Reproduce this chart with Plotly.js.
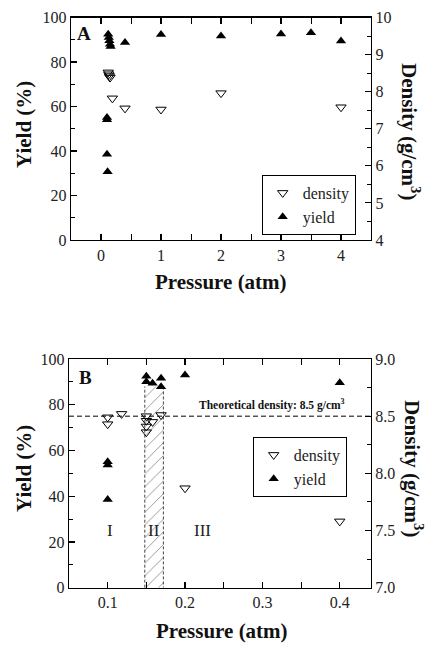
<!DOCTYPE html>
<html>
<head>
<meta charset="utf-8">
<script src="https://cdn.plot.ly/plotly-3.0.1.min.js"></script>
<style>html,body{margin:0;padding:0;background:#fff;}#chart{width:435px;height:645px;}</style>
</head>
<body>
<div id="chart"></div>
<script>
// ---------- Panel A data ----------
const pressureA_yield = [0.12, 0.13, 0.14, 0.15, 0.16, 0.4, 1, 2, 3, 3.5, 4, 0.1, 0.1, 0.1, 0.11];
const yieldA          = [92.5, 91, 89.5, 88, 87, 88.8, 92.4, 91.7, 92.6, 93.2, 89.4, 55, 54, 38.5, 30.7];
const pressureA_dens  = [0.12, 0.13, 0.14, 0.15, 0.19, 0.4, 1, 2, 4];
const densityA        = [8.52, 8.47, 8.42, 8.38, 7.82, 7.55, 7.52, 7.96, 7.58];

// ---------- Panel B data ----------
const pressureB_yield = [0.1, 0.1, 0.1, 0.15, 0.15, 0.158, 0.169, 0.169, 0.2, 0.4];
const yieldB          = [55.1, 53.6, 38.6, 92.5, 90, 89.4, 91.6, 87.9, 93, 89.6];
const pressureB_dens  = [0.1, 0.1, 0.118, 0.15, 0.15, 0.15, 0.15, 0.158, 0.169, 0.2, 0.4];
const densityB        = [8.49, 8.43, 8.52, 8.50, 8.46, 8.41, 8.36, 8.45, 8.51, 7.87, 7.58];

const theoreticalDensity = 8.5;
const bandX = [0.148, 0.172];   // region II bounds (pressure)
const bandTop = 88;             // yield level of the hatched band top
const regionLabels = ['I', 'II', 'III'];
const regionX = [0.103, 0.16, 0.223];
const regionY = 25;

const serif = 'Liberation Serif';
const tickFont = {family: serif, size: 16, color: '#222'};

const traces = [
  {x: [bandX[0], bandX[0], bandX[1], bandX[1], bandX[0]], y: [0, bandTop, bandTop, 0, 0],
   xaxis: 'x2', yaxis: 'y3', type: 'scatter', mode: 'lines', fill: 'toself',
   fillcolor: 'rgba(0,0,0,0)', line: {width: 0},
   fillpattern: {shape: '/', fgcolor: '#777', bgcolor: 'rgba(0,0,0,0)', size: 9, solidity: 0.08},
   showlegend: false, hoverinfo: 'skip'},
  {x: [bandX[0], bandX[0], null, bandX[1], bandX[1]], y: [0, bandTop, null, bandTop, 0],
   xaxis: 'x2', yaxis: 'y3', type: 'scatter', mode: 'lines',
   line: {color: '#444', width: 1, dash: '3px,2px'}, showlegend: false, hoverinfo: 'skip'},
  {x: pressureA_dens, y: densityA, xaxis: 'x', yaxis: 'y2', type: 'scatter', mode: 'markers', name: 'density',
   legend: 'legend',
   marker: {symbol: 'triangle-down-open', size: 9, color: '#000', line: {width: 1, color: '#000'}}},
  {x: pressureA_yield, y: yieldA, xaxis: 'x', yaxis: 'y', type: 'scatter', mode: 'markers', name: 'yield',
   legend: 'legend',
   marker: {symbol: 'triangle-up', size: 9, color: '#000', line: {width: 0}}},
  {x: pressureB_dens, y: densityB, xaxis: 'x2', yaxis: 'y4', type: 'scatter', mode: 'markers', name: 'density',
   legend: 'legend2',
   marker: {symbol: 'triangle-down-open', size: 9, color: '#000', line: {width: 1, color: '#000'}}},
  {x: pressureB_yield, y: yieldB, xaxis: 'x2', yaxis: 'y3', type: 'scatter', mode: 'markers', name: 'yield',
   legend: 'legend2',
   marker: {symbol: 'triangle-up', size: 9, color: '#000', line: {width: 0}}}
];

const axCommon = {
  showline: true, linecolor: '#000', linewidth: 1.3, showgrid: false, zeroline: false,
  ticks: 'inside', ticklen: 6, tickwidth: 1.1, tickcolor: '#000', tickfont: tickFont,
  automargin: false, fixedrange: true
};
const minorTicks = (d) => ({dtick: d, ticklen: 4, ticks: 'inside', tickcolor: '#000', tickwidth: 1});

const yA = [1 - 240 / 645, 1 - 17.5 / 645];
const yB = [1 - 587.7 / 645, 1 - 359 / 645];

const legendStyle = {
  xanchor: 'left', yanchor: 'top', bordercolor: '#000', borderwidth: 1, bgcolor: '#fff',
  font: {family: serif, size: 16, color: '#222'}, traceorder: 'normal', itemwidth: 30, tracegroupgap: 0
};

const ann = (text, x, y, size, extra) => Object.assign({
  text: text, xref: 'paper', yref: 'paper', x: x / 435, y: 1 - y / 645,
  xanchor: 'center', yanchor: 'middle', showarrow: false,
  font: {family: serif, size: size, color: '#111'}
}, extra || {});

const layout = {
  width: 435, height: 645,
  margin: {l: 0, r: 0, t: 0, b: 0},
  paper_bgcolor: '#fff', plot_bgcolor: '#fff',
  font: {family: serif, color: '#000'},
  xaxis: Object.assign({}, axCommon, {
    domain: [71 / 435, 371 / 435], anchor: 'y', range: [-0.5, 4.5], tick0: 0, dtick: 1,
    mirror: 'allticks', minor: minorTicks(0.5)
  }),
  yaxis: Object.assign({}, axCommon, {
    domain: yA, anchor: 'x', range: [0, 100], dtick: 20, minor: minorTicks(10)
  }),
  yaxis2: Object.assign({}, axCommon, {
    domain: yA, anchor: 'x', overlaying: 'y', side: 'right', range: [4, 10], dtick: 1, minor: minorTicks(0.5)
  }),
  xaxis2: Object.assign({}, axCommon, {
    domain: [69 / 435, 370.7 / 435], anchor: 'y3', range: [0.05, 0.44], tick0: 0, dtick: 0.1,
    mirror: 'allticks', tickformat: '.1f', minor: minorTicks(0.05)
  }),
  yaxis3: Object.assign({}, axCommon, {
    domain: yB, anchor: 'x2', range: [0, 100], dtick: 20, minor: minorTicks(10)
  }),
  yaxis4: Object.assign({}, axCommon, {
    domain: yB, anchor: 'x2', overlaying: 'y3', side: 'right', range: [7, 9], dtick: 0.5, tickformat: '.1f',
    minor: minorTicks(0.25)
  }),
  legend: Object.assign({}, legendStyle, {x: 261.7 / 435, y: 1 - 175 / 645}),
  legend2: Object.assign({}, legendStyle, {x: 252.7 / 435, y: 1 - 437 / 645}),
  shapes: [
    {type: 'line', xref: 'x2 domain', x0: 0, x1: 1, yref: 'y4', y0: theoreticalDensity, y1: theoreticalDensity,
     line: {color: '#000', width: 1, dash: '5px,3px'}}
  ],
  annotations: [
    ann('<b>A</b>', 84, 33.5, 19),
    ann('<b>B</b>', 85.5, 377.5, 19),
    ann('<b>Yield (%)</b>', 24, 125, 21, {textangle: -90}),
    ann('<b>Yield (%)</b>', 24, 469, 21, {textangle: -90}),
    ann('<b>Density (g/cm<sup>3</sup>)</b>', 411, 131, 21, {textangle: 90}),
    ann('<b>Density (g/cm<sup>3</sup>)</b>', 414, 468, 21, {textangle: 90}),
    ann('<b>Pressure (atm)</b>', 221, 282, 21),
    ann('<b>Pressure (atm)</b>', 222, 631, 21),
    {text: '<b>Theoretical density: 8.5 g/cm<sup>3</sup></b>', xref: 'x2', yref: 'y4', x: 0.41, y: theoreticalDensity,
     xanchor: 'right', yanchor: 'bottom', yshift: 2, showarrow: false, font: {family: serif, size: 11.5, color: '#111'}}
  ]
};

regionLabels.forEach((t, i) => {
  layout.annotations.push({text: t, xref: 'x2', yref: 'y3', x: regionX[i], y: regionY, showarrow: false,
    xanchor: 'center', yanchor: 'middle', font: {family: serif, size: 17, color: '#222'}});
});

Plotly.newPlot('chart', traces, layout, {staticPlot: true, displayModeBar: false});
</script>
</body>
</html>
